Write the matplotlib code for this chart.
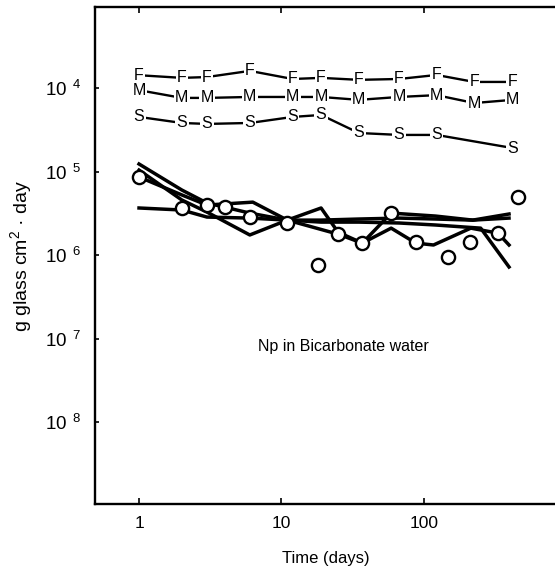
import numpy as np
import matplotlib
matplotlib.use("Agg")
import matplotlib.pyplot as plt

plt.rcParams['font.family'] = ['Liberation Sans', 'DejaVu Sans']
plt.rcParams['mathtext.fontset'] = 'custom'
plt.rcParams['mathtext.rm'] = 'Liberation Sans'
plt.rcParams['mathtext.it'] = 'Liberation Sans:italic'

# letter series (days, g/cm2/day)
dias_fm = [1, 2, 3, 6, 12, 19, 35, 67, 123, 226, 420]
val_F = [1.42e-4, 1.32e-4, 1.35e-4, 1.60e-4, 1.28e-4, 1.32e-4, 1.25e-4, 1.28e-4, 1.43e-4, 1.18e-4, 1.18e-4]
val_M = [9.4e-5, 7.6e-5, 7.6e-5, 7.8e-5, 7.8e-5, 7.8e-5, 7.2e-5, 7.8e-5, 8.2e-5, 6.6e-5, 7.2e-5]
dias_s = [1, 2, 3, 6, 12, 19, 35, 67, 123, 420]
val_S = [4.5e-5, 3.81e-5, 3.71e-5, 3.81e-5, 4.5e-5, 4.75e-5, 2.89e-5, 2.74e-5, 2.74e-5, 1.91e-5]

# Np curves
dias_a = [1, 2, 3, 6, 11, 19, 35, 67, 121, 251, 397]
val_a = [1.23e-5, 6.0e-6, 4.2e-6, 3.18e-6, 2.62e-6, 2.48e-6, 2.48e-6, 2.42e-6, 2.29e-6, 2.10e-6, 7.2e-7]
dias_b = [1, 2, 3, 6, 11, 19, 35, 67, 121, 221, 397]
val_b = [3.66e-6, 3.46e-6, 2.85e-6, 2.77e-6, 2.62e-6, 2.62e-6, 2.70e-6, 2.77e-6, 2.70e-6, 2.62e-6, 3.10e-6]
dias_c = [1, 2, 3, 6.3, 11, 19, 25, 37, 59, 121, 221, 397]
val_c = [8.6e-6, 5.24e-6, 3.97e-6, 4.3e-6, 2.62e-6, 3.66e-6, 1.88e-6, 1.39e-6, 3.18e-6, 2.93e-6, 2.62e-6, 2.77e-6]
dias_d = [1, 2, 3, 6, 11, 25, 37, 59, 88, 117, 214, 332, 397]
val_d = [1.04e-5, 4.56e-6, 3.27e-6, 1.74e-6, 2.62e-6, 1.78e-6, 1.39e-6, 2.10e-6, 1.39e-6, 1.32e-6, 2.10e-6, 1.83e-6, 1.32e-6]

# open circles
dias_o = [1, 2, 3, 4, 6, 11, 18, 25, 37, 59, 88, 149, 211, 332, 458]
val_o = [8.6e-6, 3.66e-6, 3.97e-6, 3.76e-6, 2.85e-6, 2.42e-6, 7.6e-7, 1.78e-6, 1.39e-6, 3.18e-6, 1.43e-6, 9.5e-7, 1.43e-6, 1.83e-6, 4.95e-6]

y_ticks = [1e-4, 1e-5, 1e-6, 1e-7, 1e-8]
y_labels = [r'$10^{\;\;4}$', r'$10^{\;\;5}$', r'$10^{\;\;6}$', r'$10^{\;\;7}$', r'$10^{\;\;8}$']
x_ticks = [1, 10, 100]
x_labels = ['1', '10', '100']

fig = plt.figure(figsize=(5.55, 5.75), dpi=100)
ax = fig.add_axes([0.171, 0.1235, 0.831, 0.8643])
ax.set_xscale('log')
ax.set_yscale('log')
ax.set_xlim(0.49, 850)
ax.set_ylim(1.05e-9, 9.3e-4)

for d, v in [(dias_a, val_a), (dias_b, val_b), (dias_c, val_c), (dias_d, val_d)]:
    ax.plot(d, v, color='black', lw=2.5, zorder=2)
ax.plot(dias_o, val_o, 'o', ms=9.5, mfc='white', mec='black', mew=1.7, zorder=3)

for d, v, letra in [(dias_fm, val_F, 'F'), (dias_fm, val_M, 'M'), (dias_s, val_S, 'S')]:
    ax.plot(d, v, color='black', lw=1.7, zorder=2)
    for x, y in zip(d, v):
        ax.text(x, y, letra, ha='center', va='center', fontsize=11.5, zorder=4,
                bbox=dict(boxstyle='square,pad=0.08', fc='white', ec='none'))

ax.text(0.538, 0.316, 'Np in Bicarbonate water', transform=ax.transAxes,
        ha='center', va='center', fontsize=11.5)

ax.set_xticks(x_ticks)
ax.set_xticklabels(x_labels, fontsize=12.5)
ax.set_yticks(y_ticks)
ax.set_yticklabels(y_labels, fontsize=13.5)
ax.minorticks_off()
ax.tick_params(axis='x', direction='in', length=4, width=1.2, pad=9, top=True)
ax.tick_params(axis='y', direction='in', length=3, width=1.2, pad=10)

ax.spines['right'].set_visible(False)
for s in ['left', 'bottom', 'top']:
    ax.spines[s].set_linewidth(1.7)

ax.set_xlabel('Time (days)', fontsize=12, labelpad=14)
ax.set_ylabel(r'g glass cm$^{2}$ · day', fontsize=14, labelpad=8)

fig.savefig('out.png', dpi=100)
